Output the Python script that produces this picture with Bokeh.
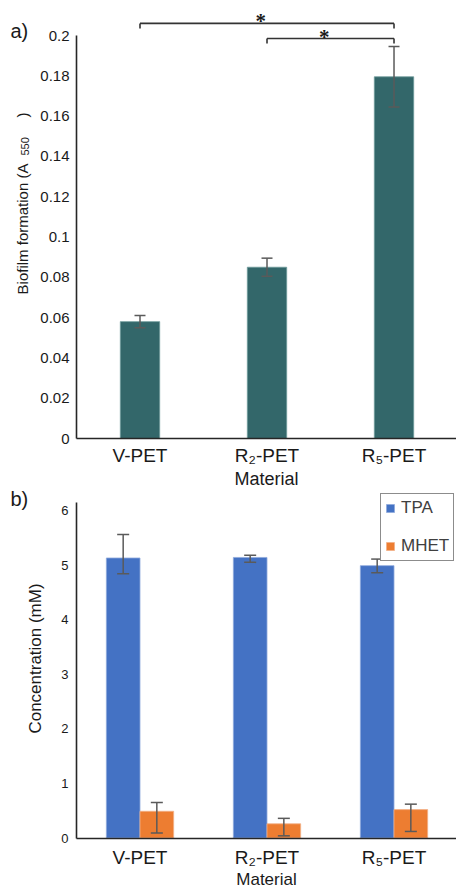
from bokeh.plotting import figure
from bokeh.models import (Range1d, FixedTicker, Label, Legend, LegendItem, Whisker,
                          TeeHead, ColumnDataSource)
from bokeh.layouts import column
from bokeh.embed import file_html
from bokeh.resources import INLINE
import math

FONT = "Liberation Sans"
TXT = "#1a1a1a"
AXC = "#262626"

# ---------------- data ----------------
materials = ["V-PET", "R₂-PET", "R₅-PET"]

# panel a) biofilm formation (A550)
biofilm = [0.058, 0.085, 0.1795]
biofilm_err = [0.003, 0.0045, 0.015]
biofilm_ticks = [0, 0.02, 0.04, 0.06, 0.08, 0.1, 0.12, 0.14, 0.16, 0.18, 0.2]
sig_pairs = [(0, 2), (1, 2)]
sig_levels = [0.206, 0.1985]
sig_marks = ["*", "*"]

# panel b) concentration (mM)
tpa = [5.13, 5.14, 4.99]
tpa_low = [4.84, 5.05, 4.86]
tpa_high = [5.56, 5.18, 5.11]
mhet = [0.49, 0.26, 0.52]
mhet_low = [0.09, 0.04, 0.12]
mhet_high = [0.65, 0.36, 0.62]
conc_ticks = [0, 1, 2, 3, 4, 5, 6]
series_names = ["TPA", "MHET"]
series_colors = ["#4472C4", "#ED7D31"]

xs = [i + 0.5 for i in range(len(materials))]
X_END = 2.992


def make_fig(height, y_range):
    p = figure(width=456, height=height, x_range=Range1d(-0.5984, X_END), y_range=y_range,
               output_backend="svg", toolbar_location=None,
               min_border_left=0, min_border_right=0, min_border_top=0, min_border_bottom=0)
    p.outline_line_color = None
    p.grid.visible = False
    p.background_fill_color = "white"
    p.border_fill_color = "white"
    for ax in (p.xaxis[0], p.yaxis[0]):
        ax.fixed_location = 0
        ax.axis_line_color = AXC
        ax.axis_line_width = 1.6
        ax.major_tick_out = 0
        ax.major_tick_in = 0
        ax.minor_tick_out = 0
        ax.minor_tick_in = 0
        ax.major_label_text_font = FONT
        ax.major_label_text_color = TXT
        ax.axis_label_text_font = FONT
        ax.axis_label_text_color = TXT
        ax.axis_label_text_font_style = "normal"
    xa = p.xaxis[0]
    xa.bounds = (0, X_END)
    xa.ticker = FixedTicker(ticks=xs)
    xa.major_label_overrides = {x: m for x, m in zip(xs, materials)}
    xa.major_label_text_font_size = "19px"
    xa.axis_label = "Material"
    return p


def vlabel(p, x, y, text, size, align="left"):
    p.add_layout(Label(x=x, y=y, text=text, angle=math.pi / 2, text_font=FONT,
                       text_font_size=size, text_color=TXT, text_align=align,
                       text_baseline="middle"))


# ---------------- panel a ----------------
pxu_a = 2015.0  # px per unit on the y axis of panel a
pa = make_fig(489, Range1d(-51 / pxu_a, 438 / pxu_a))
pa.xaxis[0].major_label_standoff = 6
pa.xaxis[0].axis_label_standoff = 0
pa.xaxis[0].axis_label_text_font_size = "18px"
ya = pa.yaxis[0]
ya.bounds = (0, 0.2)
ya.ticker = FixedTicker(ticks=biofilm_ticks)
ya.major_label_overrides = {t: f"{t:g}" for t in biofilm_ticks}
ya.major_label_text_font_size = "15px"
ya.major_label_standoff = 7

src_a = ColumnDataSource(dict(
    x=xs, top=biofilm,
    lower=[v - e for v, e in zip(biofilm, biofilm_err)],
    upper=[v + e for v, e in zip(biofilm, biofilm_err)],
))
pa.vbar(x="x", top="top", width=0.31, source=src_a, fill_color="#33676a", line_color="#6d9b9b",
        line_width=0.8)
pa.add_layout(Whisker(source=src_a, base="x", lower="lower", upper="upper", line_color="#5a5a5a",
                      line_width=1.5, level="annotation",
                      upper_head=TeeHead(size=11, line_color="#5a5a5a", line_width=1.5),
                      lower_head=TeeHead(size=11, line_color="#5a5a5a", line_width=1.5)))

drop = 5 / pxu_a
bx0, bx1, by0, by1 = [], [], [], []
sx, sy, st = [], [], []
for (i, j), lev, mark in zip(sig_pairs, sig_levels, sig_marks):
    bx0 += [xs[i], xs[i], xs[j]]
    bx1 += [xs[j], xs[i], xs[j]]
    by0 += [lev, lev, lev]
    by1 += [lev, lev - drop, lev - drop]
    sx.append((xs[i] + xs[j]) / 2 - 0.05)
    sy.append(lev + 2 / pxu_a)
    st.append(mark)
pa.segment(x0=bx0, y0=by0, x1=bx1, y1=by1, line_color="#333333", line_width=1.6)
pa.text(x=sx, y=sy, text=st, text_font=FONT, text_font_size="21px", text_align="center",
        text_baseline="alphabetic", text_color=TXT, text_font_style="bold")

# y title "Biofilm formation (A550)" with a subscript 550
vlabel(pa, -0.4252, 0.0715, "Biofilm formation (A", "15px")
vlabel(pa, -0.4016, 0.1404, "550", "11px")
vlabel(pa, -0.4252, 0.1593, ")", "15px")
pa.add_layout(Label(x=-0.5197, y=0.2022, text="a)", text_font=FONT, text_font_size="20px",
                    text_color=TXT, text_align="left", text_baseline="middle"))

# ---------------- panel b ----------------
pxu_b = 54.583
pb = make_fig(403, Range1d(-54.5 / pxu_b, 348.5 / pxu_b))
pb.xaxis[0].major_label_standoff = 9
pb.xaxis[0].axis_label_standoff = -2
pb.xaxis[0].axis_label_text_font_size = "17px"
yb = pb.yaxis[0]
yb.bounds = (0, 6.14)
yb.ticker = FixedTicker(ticks=conc_ticks)
yb.major_label_text_font_size = "13px"
yb.major_label_standoff = 8

bw = 0.265
src_b = ColumnDataSource(dict(
    x_tpa=[x - bw / 2 for x in xs], x_mhet=[x + bw / 2 for x in xs],
    tpa=tpa, mhet=mhet, tpa_low=tpa_low, tpa_high=tpa_high,
    mhet_low=mhet_low, mhet_high=mhet_high,
))
r_tpa = pb.vbar(x="x_tpa", top="tpa", width=bw, source=src_b, fill_color=series_colors[0],
                line_color="#8fa9dc", line_width=0.8)
r_mhet = pb.vbar(x="x_mhet", top="mhet", width=bw, source=src_b, fill_color=series_colors[1],
                 line_color="#f3b088", line_width=0.8)
for base, lo, hi in (("x_tpa", "tpa_low", "tpa_high"), ("x_mhet", "mhet_low", "mhet_high")):
    pb.add_layout(Whisker(source=src_b, base=base, lower=lo, upper=hi, line_color="#5a5a5a",
                          line_width=1.5, level="annotation",
                          upper_head=TeeHead(size=12, line_color="#5a5a5a", line_width=1.5),
                          lower_head=TeeHead(size=12, line_color="#5a5a5a", line_width=1.5)))

legend = Legend(items=[LegendItem(label=series_names[0], renderers=[r_tpa]),
                       LegendItem(label=series_names[1], renderers=[r_mhet])],
                location=(380, 331), padding=4, spacing=18, glyph_width=10,
                glyph_height=10, label_height=10, label_standoff=6, label_text_font=FONT,
                label_text_font_size="17px", label_text_color="#404040",
                border_line_color="#8c8c8c", border_line_width=1.5, border_line_alpha=1.0,
                background_fill_color="white", background_fill_alpha=1.0, margin=0)
pb.add_layout(legend)

vlabel(pb, -0.3189, 3.2886, "Concentration (mM)", "17px", align="center")
pb.add_layout(Label(x=-0.5197, y=6.2016, text="b)", text_font=FONT, text_font_size="20px",
                    text_color=TXT, text_align="left", text_baseline="middle"))

layout = column(pa, pb, spacing=0)
open("out.html", "w").write(file_html(layout, INLINE))
